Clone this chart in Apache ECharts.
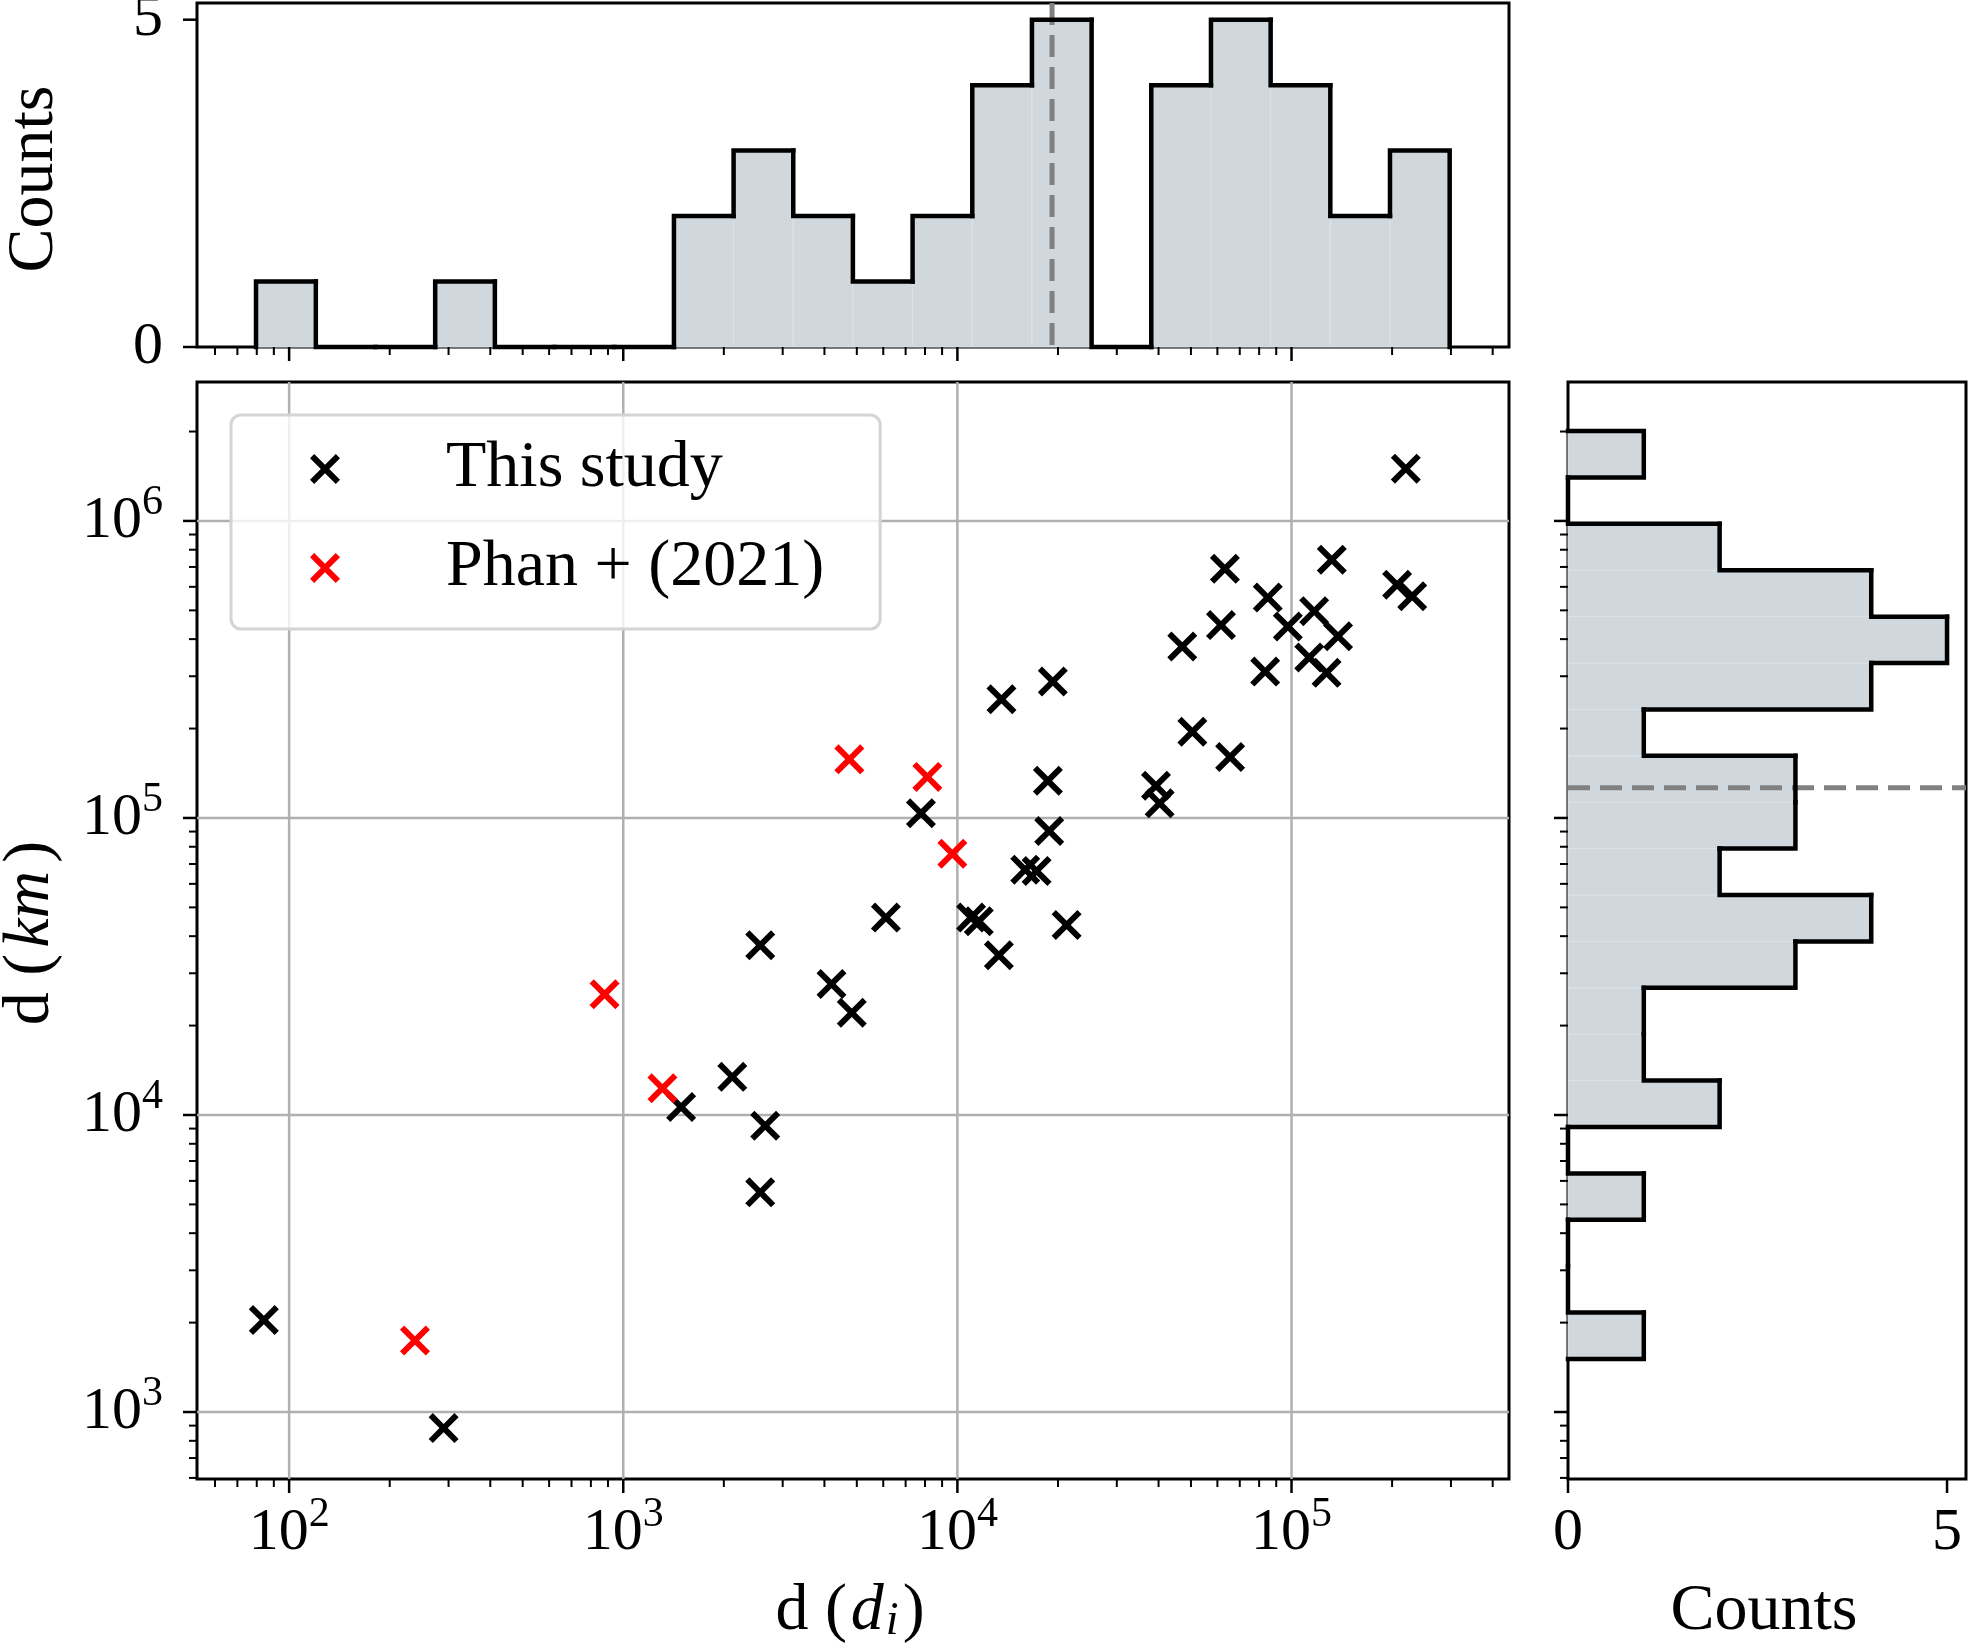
<!DOCTYPE html>
<html>
<head>
<meta charset="utf-8">
<script src="https://cdn.jsdelivr.net/npm/echarts/dist/echarts.min.js"></script>
<style>
html, body { margin: 0; padding: 0; background: #fff; }
#chart { width: 1968px; height: 1651px; }
</style>
</head>
<body>
<div id="chart"></div>
<script>
// scatter: d (d_i) on x, d (km) on y
const studyX = [219800, 63200, 132000, 84900, 207000, 229700, 61500, 97500, 116900, 47100,
  113000, 137800, 83400, 127300, 19300, 13550, 50500, 65500, 18660, 39300,
  40300, 7780, 18830, 15960, 17260, 6110, 10990, 11590, 21230, 13310,
  2570, 4200, 4830, 2120, 1490, 2660, 2570, 84, 290];
const studyY = [1500000, 690000, 740000, 552000, 610000, 558000, 446000, 441000, 497000, 378000,
  347000, 409000, 311000, 308000, 288000, 251000, 195000, 160500, 133500, 128400,
  112000, 103700, 90400, 67000, 66300, 46200, 46200, 44900, 43600, 34500,
  37300, 27600, 22100, 13440, 10640, 9200, 5490, 2040, 883];
const phanX = [238, 879, 1310, 4750, 8130, 9660];
const phanY = [1742, 25500, 12300, 157500, 137500, 75800];

// marginal histograms (log bins)
const histXEdges = [79.6, 120.2, 181.3, 273.6, 412.8, 622.9, 939.5, 1418, 2139, 3227, 4867,
  7343, 11080, 16715, 25218, 38043, 57400, 86600, 130650, 197100, 297400];
const histXCounts = [1, 0, 0, 1, 0, 0, 0, 2, 3, 2, 1, 2, 4, 5, 0, 4, 5, 4, 2, 3];
const histYEdges = [1508, 2161, 3097, 4438, 6359, 9111, 13055, 18705, 26800, 38400, 55030,
  78850, 112980, 161880, 231950, 332350, 476200, 682300, 977700, 1400900, 2007300];
const histYCounts = [1, 0, 0, 1, 0, 2, 1, 1, 3, 4, 2, 3, 3, 1, 4, 5, 4, 2, 0, 1];
const medianX = 19200;
const medianY = 126500;

// ticks
const xMajor = [1e2, 1e3, 1e4, 1e5];
const xMinor = [60, 70, 80, 90, 200, 300, 400, 500, 600, 700, 800, 900,
  2e3, 3e3, 4e3, 5e3, 6e3, 7e3, 8e3, 9e3, 2e4, 3e4, 4e4, 5e4, 6e4, 7e4, 8e4, 9e4,
  2e5, 3e5, 4e5];
const yMajor = [1e3, 1e4, 1e5, 1e6];
const yMinor = [600, 700, 800, 900, 2e3, 3e3, 4e3, 5e3, 6e3, 7e3, 8e3, 9e3,
  2e4, 3e4, 4e4, 5e4, 6e4, 7e4, 8e4, 9e4, 2e5, 3e5, 4e5, 5e5, 6e5, 7e5, 8e5, 9e5, 2e6];
const countTicks = [0, 5];

const FONT = "'Liberation Serif', 'DejaVu Serif', serif";
const FILL = '#d0d8dd';
const X_PATH = 'path://M0,14L14,0L50,36L86,0L100,14L64,50L100,86L86,100L50,64L14,100L0,86L36,50Z';

const powRich = {
  b: { fontSize: 60, fontFamily: FONT, lineHeight: 78, fill: '#000', color: '#000' },
  s: { fontSize: 42, fontFamily: FONT, lineHeight: 42, verticalAlign: 'top', fill: '#000', color: '#000' }
};
function powLabel(v) {
  return { text: '{b|10}{s|' + Math.round(Math.log10(v)) + '}', rich: powRich, fill: '#000' };
}
function plainLabel(v) {
  return { text: String(v), fill: '#000', fontSize: 60, fontFamily: FONT };
}

function tickSeries(xi, yi, side, values, other, len, lw, label) {
  return {
    type: 'custom', xAxisIndex: xi, yAxisIndex: yi, clip: false, silent: true, z: 6,
    data: values.map(v => side === 'bottom' ? [v, other] : [other, v]),
    renderItem(params, api) {
      const cs = params.coordSys;
      const p = api.coord([api.value(0), api.value(1)]);
      const kids = [];
      if (side === 'bottom') {
        const y0 = cs.y + cs.height;
        kids.push({ type: 'line', shape: { x1: p[0], y1: y0, x2: p[0], y2: y0 + len },
          style: { stroke: '#000', lineWidth: lw } });
        if (label) kids.push({ type: 'text', style: Object.assign(
          { x: p[0], y: y0 + 54, align: 'center', verticalAlign: 'middle' }, label(api.value(0))) });
      } else {
        const x0 = cs.x;
        kids.push({ type: 'line', shape: { x1: x0 - len, y1: p[1], x2: x0, y2: p[1] },
          style: { stroke: '#000', lineWidth: lw } });
        if (label) kids.push({ type: 'text', style: Object.assign(
          { x: x0 - 34, y: p[1], align: 'right', verticalAlign: 'middle' }, label(api.value(1))) });
      }
      return { type: 'group', children: kids };
    }
  };
}

const nX = histXCounts.length;
const nY = histYCounts.length;
const hideAxis = { axisLine: { show: false }, axisTick: { show: false }, axisLabel: { show: false }, splitLine: { show: false } };

const chart = echarts.init(document.getElementById('chart'));
const option = {
  animation: false,
  backgroundColor: '#fff',
  textStyle: { fontFamily: FONT },
  grid: [
    { left: 197, top: 3, width: 1312, height: 344, show: true, borderColor: '#000', borderWidth: 3 },
    { left: 197, top: 382, width: 1312, height: 1097, show: true, borderColor: '#000', borderWidth: 3 },
    { left: 1568, top: 382, width: 398, height: 1097, show: true, borderColor: '#000', borderWidth: 3 }
  ],
  xAxis: [
    Object.assign({ gridIndex: 0, type: 'log', logBase: 10, min: 53.0, max: 447600 }, hideAxis),
    Object.assign({ gridIndex: 1, type: 'log', logBase: 10, min: 53.0, max: 447600 }, hideAxis),
    Object.assign({ gridIndex: 2, type: 'value', min: 0, max: 5.25 }, hideAxis)
  ],
  yAxis: [
    Object.assign({ gridIndex: 0, type: 'value', min: 0, max: 5.255 }, hideAxis),
    Object.assign({ gridIndex: 1, type: 'log', logBase: 10, min: 595, max: 2936000 }, hideAxis),
    Object.assign({ gridIndex: 2, type: 'log', logBase: 10, min: 595, max: 2936000 }, hideAxis)
  ],
  legend: {
    orient: 'vertical', left: 231, top: 415,
    padding: [21, 56, 28, 79],
    itemGap: 33, itemWidth: 30, itemHeight: 30,
    backgroundColor: 'rgba(255,255,255,0.8)',
    borderColor: '#d4d4d4', borderWidth: 3, borderRadius: 10,
    textStyle: { fontFamily: FONT, fontSize: 66, lineHeight: 64, color: '#000', padding: [0, 0, 0, 101] },
    data: [
      { name: 'This study', icon: X_PATH },
      { name: 'Phan + (2021)', icon: X_PATH }
    ]
  },
  graphic: [
    { type: 'text', x: 35, y: 179, rotation: Math.PI / 2,
      style: { text: 'Counts', fontSize: 66, fontFamily: FONT, fill: '#000', align: 'center', verticalAlign: 'middle' } },
    { type: 'text', x: 31, y: 933, rotation: Math.PI / 2,
      style: { text: '{n|d (}{i|km}{n|)}', align: 'center', verticalAlign: 'middle', fill: '#000',
        rich: { n: { fontSize: 66, fontFamily: FONT, fill: '#000' },
                i: { fontSize: 66, fontFamily: FONT, fontStyle: 'italic', fill: '#000', padding: [0, 8, 0, 6] } } } },
    { type: 'text', x: 850, y: 1612,
      style: { text: '{n|d (}{i|d}{u|i}{n|)}', align: 'center', verticalAlign: 'middle', fill: '#000',
        rich: { n: { fontSize: 66, fontFamily: FONT, lineHeight: 66, fill: '#000' },
                i: { fontSize: 66, fontFamily: FONT, lineHeight: 66, fontStyle: 'italic', fill: '#000', padding: [0, 2, 0, 4] },
                u: { fontSize: 46, fontFamily: FONT, lineHeight: 46, fontStyle: 'italic', verticalAlign: 'bottom', fill: '#000', padding: [0, 4, 0, 0] } } } },
    { type: 'text', x: 1764, y: 1612,
      style: { text: 'Counts', fontSize: 66, fontFamily: FONT, fill: '#000', align: 'center', verticalAlign: 'middle' } }
  ],
  series: [
    // grid lines of the scatter panel
    { type: 'custom', xAxisIndex: 1, yAxisIndex: 1, z: 1, silent: true,
      data: xMajor.map(v => [v, 1e4, 0]).concat(yMajor.map(v => [1000, v, 1])),
      renderItem(params, api) {
        const cs = params.coordSys;
        const p = api.coord([api.value(0), api.value(1)]);
        const shape = api.value(2) === 0
          ? { x1: p[0], y1: cs.y, x2: p[0], y2: cs.y + cs.height }
          : { x1: cs.x, y1: p[1], x2: cs.x + cs.width, y2: p[1] };
        return { type: 'line', shape, style: { stroke: '#b0b0b0', lineWidth: 2.5 } };
      } },
    // top histogram fill
    { type: 'custom', xAxisIndex: 0, yAxisIndex: 0, z: 2, silent: true, encode: { x: [0, 1], y: 2 },
      data: histXCounts.map((c, i) => [histXEdges[i], histXEdges[i + 1], c]),
      renderItem(params, api) {
        const a = api.coord([api.value(0), api.value(2)]);
        const b = api.coord([api.value(1), 0]);
        return { type: 'rect', shape: { x: a[0], y: a[1], width: b[0] - a[0], height: b[1] - a[1] },
          style: { fill: FILL, stroke: '#dde3e6', lineWidth: 1 } };
      } },
    // right histogram fill
    { type: 'custom', xAxisIndex: 2, yAxisIndex: 2, z: 2, silent: true, encode: { x: 2, y: [0, 1] },
      data: histYCounts.map((c, i) => [histYEdges[i], histYEdges[i + 1], c]),
      renderItem(params, api) {
        const a = api.coord([0, api.value(1)]);
        const b = api.coord([api.value(2), api.value(0)]);
        return { type: 'rect', shape: { x: a[0], y: a[1], width: b[0] - a[0], height: b[1] - a[1] },
          style: { fill: FILL, stroke: '#dde3e6', lineWidth: 1 } };
      } },
    // medians
    { type: 'custom', xAxisIndex: 0, yAxisIndex: 0, z: 3, silent: true,
      data: [[medianX, 1]],
      renderItem(params, api) {
        const cs = params.coordSys;
        const p = api.coord([api.value(0), api.value(1)]);
        return { type: 'line', shape: { x1: p[0], y1: cs.y, x2: p[0], y2: cs.y + cs.height },
          style: { stroke: '#808080', lineWidth: 5, lineDash: [22, 10] } };
      } },
    { type: 'custom', xAxisIndex: 2, yAxisIndex: 2, z: 3, silent: true,
      data: [[1, medianY]],
      renderItem(params, api) {
        const cs = params.coordSys;
        const p = api.coord([api.value(0), api.value(1)]);
        return { type: 'line', shape: { x1: cs.x, y1: p[1], x2: cs.x + cs.width, y2: p[1] },
          style: { stroke: '#808080', lineWidth: 5, lineDash: [22, 10] } };
      } },
    // top histogram outline (step)
    { type: 'custom', xAxisIndex: 0, yAxisIndex: 0, z: 4, silent: true, encode: { x: [0, 1], y: 2 },
      data: histXCounts.map((c, i) => [histXEdges[i], histXEdges[i + 1], c, i > 0 ? histXCounts[i - 1] : 0, i === nX - 1 ? 1 : 0]),
      renderItem(params, api) {
        const lo = api.value(0), hi = api.value(1), c = api.value(2), prev = api.value(3);
        const pts = [api.coord([lo, prev]), api.coord([lo, c]), api.coord([hi, c])];
        if (api.value(4) === 1) pts.push(api.coord([hi, 0]));
        return { type: 'polyline', shape: { points: pts },
          style: { fill: null, stroke: '#000', lineWidth: 4.5, lineCap: 'square', lineJoin: 'miter' } };
      } },
    // right histogram outline (step)
    { type: 'custom', xAxisIndex: 2, yAxisIndex: 2, z: 4, silent: true, encode: { x: 2, y: [0, 1] },
      data: histYCounts.map((c, i) => [histYEdges[i], histYEdges[i + 1], c, i > 0 ? histYCounts[i - 1] : 0, i === nY - 1 ? 1 : 0]),
      renderItem(params, api) {
        const lo = api.value(0), hi = api.value(1), c = api.value(2), prev = api.value(3);
        const pts = [api.coord([prev, lo]), api.coord([c, lo]), api.coord([c, hi])];
        if (api.value(4) === 1) pts.push(api.coord([0, hi]));
        return { type: 'polyline', shape: { points: pts },
          style: { fill: null, stroke: '#000', lineWidth: 4.5, lineCap: 'square', lineJoin: 'miter' } };
      } },
    // scatter
    { name: 'This study', type: 'scatter', xAxisIndex: 1, yAxisIndex: 1, z: 5,
      symbol: X_PATH, symbolSize: 30, itemStyle: { color: '#000', opacity: 1 },
      data: studyX.map((x, i) => [x, studyY[i]]) },
    { name: 'Phan + (2021)', type: 'scatter', xAxisIndex: 1, yAxisIndex: 1, z: 5,
      symbol: X_PATH, symbolSize: 30, itemStyle: { color: '#ff0000', opacity: 1 },
      data: phanX.map((x, i) => [x, phanY[i]]) },
    // ticks
    tickSeries(0, 0, 'bottom', xMajor, 1, 14, 2.5, null),
    tickSeries(0, 0, 'bottom', xMinor, 1, 8, 2, null),
    tickSeries(0, 0, 'left', countTicks, 1000, 14, 2.5, plainLabel),
    tickSeries(1, 1, 'bottom', xMajor, 1e4, 14, 2.5, powLabel),
    tickSeries(1, 1, 'bottom', xMinor, 1e4, 8, 2, null),
    tickSeries(1, 1, 'left', yMajor, 1000, 14, 2.5, powLabel),
    tickSeries(1, 1, 'left', yMinor, 1000, 8, 2, null),
    tickSeries(2, 2, 'left', yMajor, 1, 14, 2.5, null),
    tickSeries(2, 2, 'left', yMinor, 1, 8, 2, null),
    tickSeries(2, 2, 'bottom', countTicks, 1e4, 14, 2.5, plainLabel)
  ]
};
chart.setOption(option);
</script>
</body>
</html>
